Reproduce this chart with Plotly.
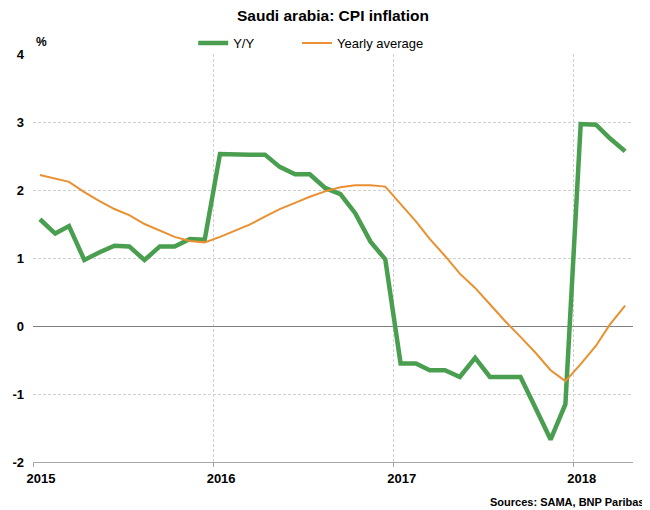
import pandas as pd
import plotly.graph_objects as go

# monthly points, plotted mid-month
months = pd.date_range('2015-01-01', '2018-04-01', freq='MS') + pd.Timedelta(days=14)

yoy = [1.57, 1.36, 1.47, 0.97, 1.08, 1.18, 1.17, 0.97, 1.17, 1.17, 1.28, 1.27,
       2.53, 2.52, 2.52, 2.52, 2.34, 2.23, 2.23, 2.03, 1.94, 1.66, 1.24, 0.98,
       -0.55, -0.55, -0.65, -0.65, -0.75, -0.47, -0.75, -0.75, -0.75, -1.20, -1.67, -1.15,
       2.97, 2.96, 2.76, 2.57]

yearly_avg = [2.22, 2.17, 2.12, 1.97, 1.84, 1.72, 1.63, 1.50, 1.40, 1.31, 1.25, 1.23,
              1.31, 1.40, 1.49, 1.61, 1.72, 1.81, 1.90, 1.98, 2.04, 2.07, 2.07, 2.05,
              1.80, 1.54, 1.28, 1.03, 0.77, 0.56, 0.32, 0.07, -0.16, -0.39, -0.65, -0.81,
              -0.56, -0.29, 0.02, 0.30]

year_ticks = ['2015-01-01', '2016-01-01', '2017-01-01', '2018-01-01']
year_labels = ['2015', '2016', '2017', '2018']
y_ticks = [-2, -1, 0, 1, 2, 3, 4]

FONT = 'Liberation Sans Narrow, Arial Narrow, Liberation Sans, Arial'
GRID = dict(showgrid=True, gridcolor='#d0d0d0', griddash='3px,2px', gridwidth=1)

fig = go.Figure()
fig.add_trace(go.Scatter(x=months, y=yoy, mode='lines', name='Y/Y',
                         line=dict(color='#4a9e4f', width=4.5), legend='legend'))
fig.add_trace(go.Scatter(x=months, y=yearly_avg, mode='lines', name='Yearly average',
                         line=dict(color='#ea9030', width=2), legend='legend2'))

# the page body adds an 8px offset, so the figure is laid out 8px up/left
leg = dict(orientation='h', y=0.99, yanchor='bottom', xanchor='left',
           font=dict(size=13), itemwidth=30, bgcolor='rgba(0,0,0,0)')

fig.update_layout(
    width=650, height=510,
    margin=dict(l=25, r=25, t=46, b=56, autoexpand=False),
    paper_bgcolor='white', plot_bgcolor='white',
    font=dict(family=FONT, size=13, color='black'),
    title=dict(text='<b>Saudi arabia: CPI inflation</b>', x=0.5, xanchor='center',
               yref='container', y=1 - 8 / 510, yanchor='middle', font=dict(size=15.5)),
    legend=dict(leg, x=0.267),
    legend2=dict(leg, x=0.44),
    showlegend=True,
)

fig.update_xaxes(
    type='date', range=['2015-01-01', '2018-05-01'],
    tickvals=year_ticks, ticktext=['<b>%s</b>' % t for t in year_labels],
    ticklabelshift=8, **GRID,
    showline=True, linecolor='#a6a6a6', linewidth=1,
    ticks='outside', ticklen=4, tickcolor='#a6a6a6',
    tickfont=dict(size=13), zeroline=False, automargin=False,
)
fig.update_yaxes(
    range=[-2, 4], tickvals=y_ticks,
    ticktext=['<b>%d</b>' % v for v in y_ticks], **GRID,
    zeroline=True, zerolinecolor='#808080', zerolinewidth=1,
    showline=False, ticks='', ticklabelstandoff=8,
    tickfont=dict(size=13), automargin=False,
)

fig.add_annotation(text='<b>%</b>', xref='paper', yref='paper', x=0.0, y=1.0,
                   xanchor='left', yanchor='middle', yshift=12, xshift=1,
                   showarrow=False, font=dict(size=12))
fig.add_annotation(text='<b>Sources: SAMA, BNP Paribas</b>', xref='paper', yref='paper',
                   x=1.0, y=0, xanchor='right', yanchor='middle', xshift=13, yshift=-40,
                   showarrow=False, font=dict(size=11))

fig.write_html('out.html')
